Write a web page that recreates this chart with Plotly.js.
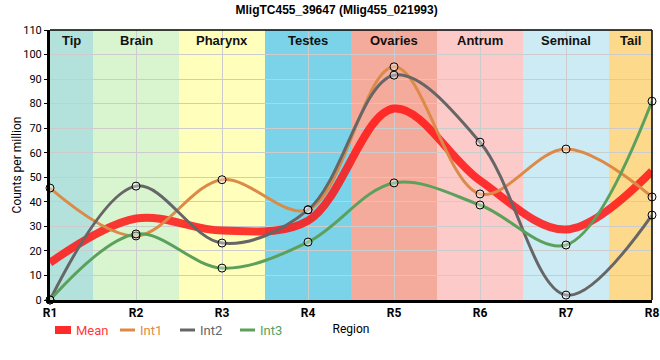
<!DOCTYPE html>
<html><head><meta charset="utf-8">
<script src="https://cdn.plot.ly/plotly-3.0.1.min.js"></script>
<style>html,body{margin:0;padding:0;background:#fff}</style>
</head><body>
<div id="chart" style="width:660px;height:360px"></div>
<script>
const regions = ["R1","R2","R3","R4","R5","R6","R7","R8"];
const bandNames = ["Tip","Brain","Pharynx","Testes","Ovaries","Antrum","Seminal","Tail"];
const bandColors = ["#b3e2dd","#d8f5cf","#ffffbb","#7bd3ea","#f4ab9c","#fdcaca","#cdebf5","#fdd98b"];
const seriesNames = ["Mean","Int1","Int2","Int3"];
const meanVals = [15.2, 33.2, 28.3, 32.3, 78.0, 48.7, 28.7, 52.5];
const int1 = [45.6, 26.1, 49.0, 36.8, 95.0, 43.2, 61.5, 42.0];
const int2 = [0.0, 46.4, 23.2, 36.7, 91.6, 64.3, 2.0, 34.6];
const int3 = [0.0, 26.9, 13.0, 23.6, 47.7, 38.7, 22.4, 81.0];

const lineColors = ["rgba(255,20,20,0.85)", "#dc8a48", "#666666", "#5ba05b"];
const textColors = ["#ff3a3a", "#e08a48", "#666666", "#5ba05b"];
const lineWidths = [8, 3, 3, 3];
const seriesData = [meanVals, int1, int2, int3];

const traces = [];
seriesData.forEach((y, k) => {
  traces.push({
    x: regions, y: y, name: seriesNames[k], type: 'scatter', mode: 'lines',
    line: {color: lineColors[k], width: lineWidths[k], shape: 'spline', smoothing: 1.0},
    showlegend: false, cliponaxis: false
  });
});
seriesData.forEach((y, k) => {
  if (k === 0) return;
  traces.push({
    x: regions, y: y, name: seriesNames[k], type: 'scatter', mode: 'markers',
    marker: {symbol: 'circle', size: 8, color: 'rgba(255,255,255,0.35)', line: {color: '#000', width: 1}},
    showlegend: false, cliponaxis: false
  });
});

const shapes = bandNames.map((n,i)=>({
  type:'rect', xref:'x', yref:'paper', x0:i-0.5, x1:i+0.5, y0:0, y1:1,
  fillcolor: bandColors[i], line:{width:0}, layer:'below'
}));
shapes.push({type:'line', xref:'paper', yref:'paper', x0:0, x1:1, y0:1, y1:1, line:{color:'#000', width:1.5}});
shapes.push({type:'line', xref:'paper', yref:'paper', x0:1, x1:1, y0:0, y1:1, line:{color:'#000', width:1.5}});

const annotations = bandNames.map((n,i)=>({
  x: i === 0 ? 0.25 : (i === bandNames.length-1 ? i-0.25 : i), xref:'x', y: 1, yref:'paper', yanchor:'top', yshift:-1,
  text: '<b>'+n+'</b>',
  showarrow:false, font:{family:'Liberation Sans, Arial', size:13, color:'#111'}
}));

// custom legend (pixel offsets within plot area of width 602, height 270)
const plotW = 602, plotH = 270;
const legendStart = [55, 120, 180, 240];
const legendLen = [16, 15, 15, 15];
const legendY = -(330 - 300) / plotH;
seriesNames.forEach((n, k) => {
  const x0 = (legendStart[k] - 50) / plotW;
  const x1 = (legendStart[k] + legendLen[k] - 50) / plotW;
  shapes.push({type:'line', xref:'paper', yref:'paper', x0:x0, x1:x1, y0:legendY, y1:legendY,
    line:{color: k === 0 ? '#ff2a2a' : lineColors[k], width: lineWidths[k]}});
  annotations.push({x: x1 + 3/plotW, xref:'paper', xanchor:'left', y: legendY, yref:'paper', yanchor:'middle',
    text: n, showarrow:false, font:{family:'Roboto, Arial', size:13, color: textColors[k]}});
});

const layout = {
  width: 660, height: 360,
  margin: {l: 50, r: 8, t: 30, b: 60, autoexpand: false},
  paper_bgcolor: '#fff', plot_bgcolor: '#fff',
  title: {text: '<b>MligTC455_39647 (Mlig455_021993)</b>', x: 0.51, xanchor:'center', y: 0.985, yanchor:'top',
          font: {family: 'Liberation Sans, Arial', size: 12, color: '#000'}},
  xaxis: {
    type: 'category', range: [0, 7], showgrid: true, gridcolor: '#cccccc', gridwidth: 1,
    showline: true, linecolor: '#000', linewidth: 3, ticks: '', automargin: false,
    tickfont: {family: 'Roboto, Arial', size: 12, color: '#000', weight: 'bold'},
    title: {text: 'Region', standoff: 6, font: {family: 'Roboto, Arial', size: 12, color: '#000'}},
    zeroline: false, layer: 'above traces'
  },
  yaxis: {
    range: [0, 110], dtick: 10, showgrid: true, gridcolor: '#cccccc', gridwidth: 1, automargin: false,
    showline: true, linecolor: '#000', linewidth: 3, ticks: 'outside', ticklen: 3, tickcolor: '#000',
    tickfont: {family: 'Roboto, Arial', size: 11, color: '#000'},
    title: {text: 'Counts per million', standoff: 0, font: {family: 'Roboto, Arial', size: 12, color: '#000'}},
    zeroline: false
  },
  shapes: shapes,
  annotations: annotations,
  showlegend: false
};

Plotly.newPlot('chart', traces, layout, {displayModeBar: false, staticPlot: true});
</script>
</body></html>
